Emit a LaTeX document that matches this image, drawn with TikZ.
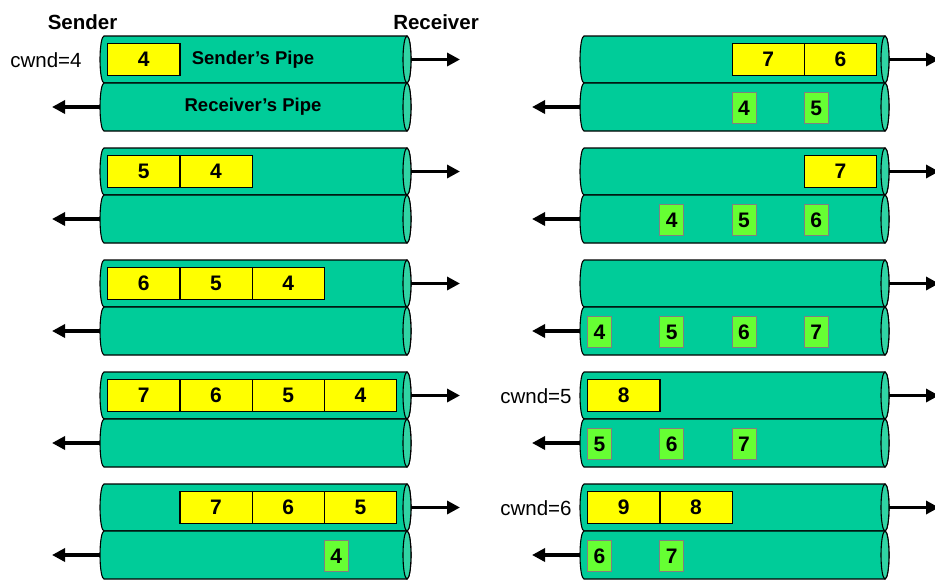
\documentclass[tikz,border=0pt]{standalone}
\usepackage{fontspec}
\setmainfont{Liberation Sans}
\usetikzlibrary{arrows.meta}
\definecolor{pipeC}{RGB}{0,204,153}
\definecolor{capC}{RGB}{48,212,164}
\definecolor{yelC}{RGB}{255,255,0}
\definecolor{grnC}{RGB}{102,255,51}
\definecolor{gbord}{RGB}{128,128,128}
\tikzset{
  pipebody/.style={fill=pipeC,draw=black,line width=1.1pt},
  pipecap/.style={fill=capC,draw=black,line width=1.1pt},
  ycell/.style={fill=yelC,draw=black,line width=1.3pt,minimum width=72.25pt,minimum height=32pt,inner sep=0pt,font=\bfseries\fontsize{21}{24}\selectfont},
  gcell/.style={fill=grnC,draw=gbord,line width=1pt,minimum width=24pt,minimum height=31pt,inner sep=0pt,font=\bfseries\fontsize{21}{24}\selectfont},
  arr/.style={line width=3.8pt,-{Triangle[length=13pt,width=13pt]}},
  head/.style={font=\bfseries\fontsize{20.5}{24}\selectfont,anchor=base},
  cwnd/.style={font=\fontsize{20.5}{24}\selectfont},
  plabel/.style={font=\bfseries\fontsize{18.5}{22}\selectfont}
}
\newcommand\pipeshape[4]{%
  \draw[pipebody] ({#1+4},-#3) arc[start angle=90,end angle=270,x radius=4,y radius={(#4-#3)/2}] -- (#2,-#4) arc[start angle=-90,end angle=90,x radius=4,y radius={(#4-#3)/2}] -- cycle;
  \draw[pipecap] (#2,{-(#3+#4)/2}) ellipse[x radius=4,y radius={(#4-#3)/2}];}
\newcommand\yc[5]{\node[ycell,anchor=north west] (#1) at ({#2+72.25*#4},{-(43+112*#3)}) {#5};}
\newcommand\gc[5]{\node[gcell,anchor=north west] (#1) at ({#2+72.25*#4},{-(92+112*#3)}) {#5};}
\begin{document}
\begin{tikzpicture}[x=1pt,y=1pt]
\useasboundingbox (0,0) rectangle (935,-579);
\foreach \r in {0,...,4}{
  \pgfmathsetmacro\yt{36+112*\r}
  \pgfmathsetmacro\ym{83+112*\r}
  \pgfmathsetmacro\yb{131+112*\r}
  \pgfmathsetmacro\yu{(\yt+\ym)/2}
  \pgfmathsetmacro\yl{(\ym+\yb)/2}
  % left pair
  \pipeshape{100}{407}{\yt}{\ym}
  \pipeshape{100}{407}{\ym}{\yb}
  % right pair
  \pipeshape{580}{885}{\yt}{\ym}
  \pipeshape{580}{885}{\ym}{\yb}
  \coordinate (Lso\r) at (411,-\yu);
  \coordinate (Lst\r) at (460,-\yu);
  \coordinate (Lro\r) at (100,-\yl);
  \coordinate (Lrt\r) at (52,-\yl);
  \coordinate (Rso\r) at (889,-\yu);
  \coordinate (Rst\r) at (939,-\yu);
  \coordinate (Rro\r) at (580,-\yl);
  \coordinate (Rrt\r) at (532,-\yl);
  \draw[arr] (Lso\r) -- (Lst\r);
  \draw[arr] (Lro\r) -- (Lrt\r);
  \draw[arr] (Rso\r) -- (Rst\r);
  \draw[arr] (Rro\r) -- (Rrt\r);
}
% headings
\node[head] (snd) at (82.5,-29) {Sender};
\node[head] (rcv) at (436,-29) {Receiver};
\node[cwnd] (c4) at (46,-60) {cwnd=4};
\node[cwnd] (c5) at (536,-396) {cwnd=5};
\node[cwnd] (c6) at (536,-508) {cwnd=6};
\node[plabel] (sp) at (253,-60) {Sender's Pipe};
\node[plabel] (rp) at (253,-107) {Receiver's Pipe};
% left side
\yc{a1}{107}{0}{0}{4}
\yc{b1}{107}{1}{0}{5}\yc{b2}{107}{1}{1}{4}
\yc{c1}{107}{2}{0}{6}\yc{c2}{107}{2}{1}{5}\yc{c3}{107}{2}{2}{4}
\yc{d1}{107}{3}{0}{7}\yc{d2}{107}{3}{1}{6}\yc{d3}{107}{3}{2}{5}\yc{d4}{107}{3}{3}{4}
\yc{e2}{107}{4}{1}{7}\yc{e3}{107}{4}{2}{6}\yc{e4}{107}{4}{3}{5}
\gc{eg4}{107}{4}{3}{4}
% right side
\yc{f3}{587}{0}{2}{7}\yc{f4}{587}{0}{3}{6}
\gc{fg3}{587}{0}{2}{4}\gc{fg4}{587}{0}{3}{5}
\yc{g4}{587}{1}{3}{7}
\gc{gg2}{587}{1}{1}{4}\gc{gg3}{587}{1}{2}{5}\gc{gg4}{587}{1}{3}{6}
\gc{hg1}{587}{2}{0}{4}\gc{hg2}{587}{2}{1}{5}\gc{hg3}{587}{2}{2}{6}\gc{hg4}{587}{2}{3}{7}
\yc{i1}{587}{3}{0}{8}
\gc{ig1}{587}{3}{0}{5}\gc{ig2}{587}{3}{1}{6}\gc{ig3}{587}{3}{2}{7}
\yc{j1}{587}{4}{0}{9}\yc{j2}{587}{4}{1}{8}
\gc{jg1}{587}{4}{0}{6}\gc{jg2}{587}{4}{1}{7}
\end{tikzpicture}
\end{document}
